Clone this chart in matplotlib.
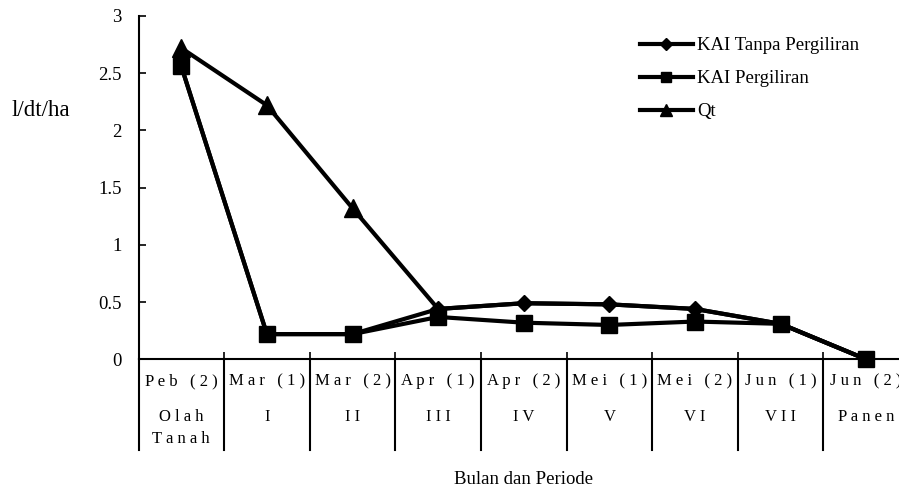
import numpy as np
import matplotlib
matplotlib.use('Agg')
import matplotlib.pyplot as plt
from matplotlib.transforms import blended_transform_factory
from matplotlib.ticker import FuncFormatter

plt.rcParams['font.family'] = ['Liberation Serif', 'DejaVu Serif']

bulan = ['Peb (2)', 'Mar (1)', 'Mar (2)', 'Apr (1)', 'Apr (2)',
         'Mei (1)', 'Mei (2)', 'Jun (1)', 'Jun (2)']
periode = ['Olah', 'I', 'II', 'III', 'IV', 'V', 'VI', 'VII', 'Panen']
periode2 = ['Tanah', '', '', '', '', '', '', '', '']

kai_tanpa = [2.56, 0.22, 0.22, 0.44, 0.49, 0.48, 0.44, 0.31, 0.0]
kai_gilir = [2.56, 0.22, 0.22, 0.37, 0.32, 0.30, 0.33, 0.31, 0.0]
qt = [2.72, 2.22, 1.32, 0.44, 0.49, 0.48, 0.44, 0.31, 0.0]
# triangles are only visible on the first points, the rest lies under the other series
qt_marked = [0, 1, 2]


def spaced(s):
    return ' '.join(s)


W, H = 899, 495
fig = plt.figure(figsize=(W / 100, H / 100), dpi=100)
left, right, top, bottom = 138.5, 909, 16, 359.3
ax = fig.add_axes([left / W, 1 - bottom / H, (right - left) / W, (bottom - top) / H])

x = np.arange(len(bulan))
lw = 3.0
l3, = ax.plot(x, qt, color='black', lw=lw, marker='^', ms=13, markevery=qt_marked, label='Qt',
              clip_on=False, zorder=2)
l1, = ax.plot(x, kai_tanpa, color='black', lw=lw, marker='D', ms=8, label='KAI Tanpa Pergiliran',
              clip_on=False, zorder=3)
l2, = ax.plot(x, kai_gilir, color='black', lw=lw, marker='s', ms=11.5, label='KAI Pergiliran',
              clip_on=False, zorder=4)

ax.set_xlim(-0.5, len(bulan) - 0.5)
ax.set_ylim(0, 3)
ax.set_yticks(np.arange(0, 3.01, 0.5))
ax.yaxis.set_major_formatter(FuncFormatter(lambda v, p: '%g' % v))
ax.tick_params(axis='y', direction='in', length=5, width=1.2, pad=12, labelsize=13.5)
ax.set_xticks(np.arange(-0.5, len(bulan), 1.0))
ax.set_xticklabels([])
ax.tick_params(axis='x', direction='in', length=5, width=1.2)
for s in ['top', 'right']:
    ax.spines[s].set_visible(False)
for s in ['left', 'bottom']:
    ax.spines[s].set_linewidth(1.5)

# category table under the axis
tr = blended_transform_factory(ax.transData, ax.transAxes)
depth = -(450 - bottom) / (bottom - top)
for b in np.arange(-0.5, len(bulan), 1.0):
    ax.plot([b, b], [0, depth], color='black', lw=1.5, transform=tr, clip_on=False)

row1 = -(381 - bottom) / (bottom - top)
row2 = -(417 - bottom) / (bottom - top)
row3 = -(439 - bottom) / (bottom - top)
for i in range(len(bulan)):
    ax.text(i, row1, spaced(bulan[i]), transform=tr, ha='center', va='center', fontsize=12)
    ax.text(i, row2, spaced(periode[i]), transform=tr, ha='center', va='center', fontsize=12)
    if periode2[i]:
        ax.text(i, row3, spaced(periode2[i]), transform=tr, ha='center', va='center', fontsize=12)

fig.text((left + right) / 2 / W, 1 - 480 / H, 'Bulan dan Periode', ha='center', va='center', fontsize=13.5)
fig.text(12 / W, 1 - 110 / H, 'l/dt/ha', ha='left', va='center', fontsize=16.5)

leg = ax.legend(handles=[l1, l2, l3], loc='upper left', bbox_to_anchor=(640 / W, 1 - 37 / H),
                bbox_transform=fig.transFigure, frameon=False, fontsize=13.5, handlelength=2.8,
                handletextpad=0.25, labelspacing=0.85, borderpad=0, borderaxespad=0)
for h, m in zip(leg.legend_handles, [6, 7.5, 8]):
    h.set_markersize(m)

fig.savefig('out.png', dpi=100)
